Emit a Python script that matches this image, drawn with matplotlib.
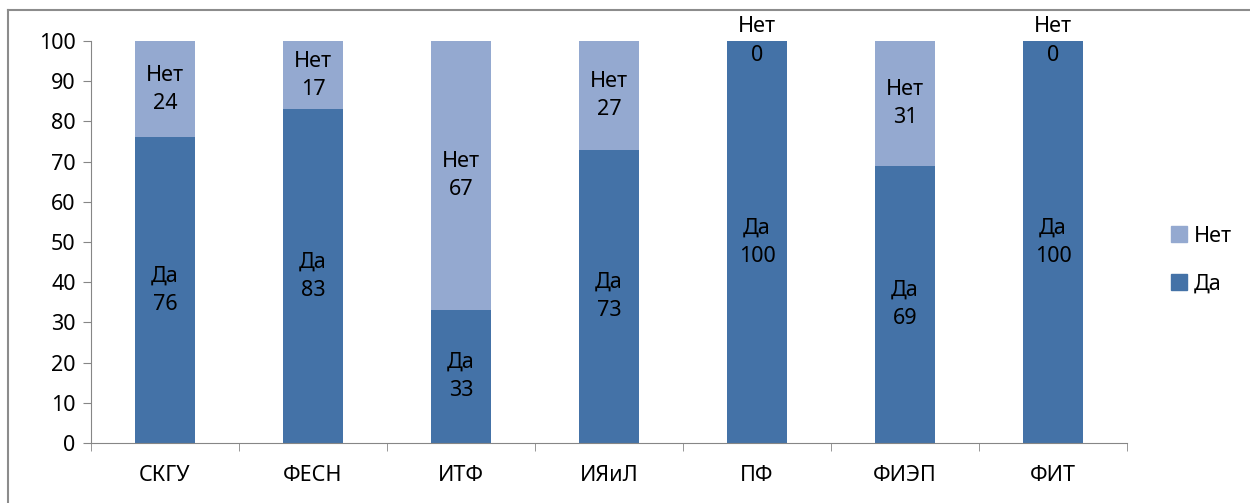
import numpy as np
import matplotlib.pyplot as plt
from matplotlib.lines import Line2D

plt.rcParams['font.family'] = ['Noto Sans', 'DejaVu Sans']

categories = ['СКГУ', 'ФЕСН', 'ИТФ', 'ИЯиЛ', 'ПФ', 'ФИЭП', 'ФИТ']
da = [76, 83, 33, 73, 100, 69, 100]
net = [24, 17, 67, 27, 0, 31, 0]

c_da = '#4472A7'
c_net = '#94A9D0'
axis_col = '#868686'


def main():
    fig = plt.figure(figsize=(12.5, 5.03), dpi=100)
    ax = fig.add_axes([91 / 1250, 1 - 443 / 503, (1127 - 91) / 1250, (443 - 41) / 503])

    x = np.arange(len(categories))
    ax.bar(x, da, width=0.4, color=c_da, label='Да', zorder=2)
    ax.bar(x, net, width=0.4, bottom=da, color=c_net, label='Нет', zorder=2)

    for i in range(len(categories)):
        ax.text(x[i], da[i] / 2, 'Да\n' + str(da[i]), ha='center', va='center',
                fontsize=15.5, linespacing=1.45, zorder=3)
        ax.text(x[i], da[i] + net[i] / 2, 'Нет\n' + str(net[i]), ha='center',
                va='center', fontsize=15.5, linespacing=1.45, zorder=3)

    ax.set_xlim(-0.5, len(categories) - 0.5)
    ax.set_ylim(0, 100)
    ax.set_yticks(range(0, 101, 10))
    ax.set_xticks(x)
    ax.set_xticklabels(categories, fontsize=15.5)
    ax.tick_params(axis='x', length=0, pad=16)
    ax.set_xticks(np.arange(-0.5, len(categories)), minor=True)
    ax.tick_params(axis='x', which='minor', length=6, color=axis_col, direction='out')
    ax.tick_params(axis='y', labelsize=15.5, length=6, color=axis_col, direction='out', pad=5)

    for s in ['top', 'right']:
        ax.spines[s].set_visible(False)
    ax.spines['left'].set_color(axis_col)
    ax.spines['bottom'].set_color(axis_col)

    handles = [Line2D([], [], marker='s', linestyle='', markersize=12, color=c_net),
               Line2D([], [], marker='s', linestyle='', markersize=12, color=c_da)]
    fig.legend(handles, ['Нет', 'Да'], loc='center left', bbox_to_anchor=(1166 / 1250, 1 - 260 / 503),
               frameon=False, fontsize=15.5, handletextpad=0.1, labelspacing=1.25,
               borderpad=0, borderaxespad=0, handlelength=1.2)

    # frame lines at top and left of picture
    fig.add_artist(Line2D([8 / 1250, 1], [1 - 10 / 503, 1 - 10 / 503], color='#8c8c8c', lw=1.5))
    fig.add_artist(Line2D([8 / 1250, 8 / 1250], [0, 1 - 10 / 503], color='#8c8c8c', lw=1.5))

    fig.savefig('out.png', dpi=100)


main()
